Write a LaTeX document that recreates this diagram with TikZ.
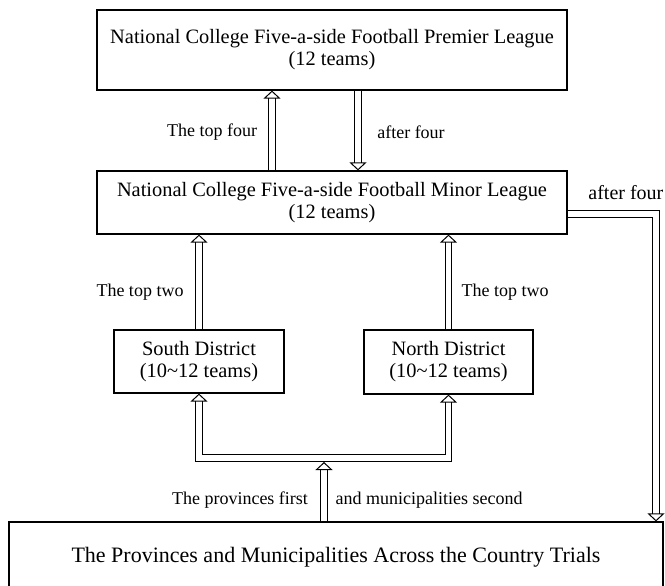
\documentclass[tikz,border=0pt]{standalone}
\usepackage{fontspec}
\setmainfont{Liberation Serif}
\usetikzlibrary{arrows.meta, positioning}

\begin{document}
\begin{tikzpicture}[x=0.5pt, y=-0.5pt,
  box/.style={draw, line width=0.6pt, align=center, inner sep=0pt, font=\fontsize{10.2}{11}\selectfont},
  lbl/.style={inner sep=0pt, font=\fontsize{9}{11}\selectfont},
  dbl/.style={double, double distance=2.8pt, line width=0.5pt, line join=miter,
    -{Triangle[open, length=4pt, width=8.5pt, line width=0.5pt]}}]
  \useasboundingbox (0,0) rectangle (665,585);
  \clip (0,0) rectangle (665,585);

  % Leagues
  \node[box, minimum width=235pt, minimum height=40pt] (premier) at (332,50) {National College Five-a-side Football Premier League\\(12 teams)};
  \node[box, minimum width=235pt, minimum height=31.5pt] (minor) at (332,202.5) {National College Five-a-side Football Minor League\\(12 teams)};

  % Districts
  \node[box, minimum width=85pt, minimum height=31.5pt] (south) at (199,361.5) {South District\\(10\char`~12 teams)};
  \node[box, minimum width=84.5pt, minimum height=32pt] (north) at (448.5,362) {North District\\(10\char`~12 teams)};

  % Trials
  \node[box, minimum width=327pt, minimum height=35pt, font=\fontsize{11}{13}\selectfont] (trials) at (336,557) {The Provinces and Municipalities Across the Country Trials};

  \coordinate (fork) at (324,458);
  \coordinate (edge) at (656,214);

  % Promotion and relegation
  \draw[dbl] ([xshift=-30pt]minor.north) -- ([xshift=-30pt]premier.south);
  \draw[dbl] ([xshift=13pt]premier.south) -- ([xshift=13pt]minor.north);
  \node[lbl] (topfour) at (212,132) {The top four};
  \node[lbl] (afterfour) at (411,132) {after four};

  \draw[dbl] (south.north) -- (south.north |- minor.south);
  \draw[dbl] (north.north) -- (north.north |- minor.south);
  \node[lbl] (toptwoS) at (140,292) {The top two};
  \node[lbl] (toptwoN) at (505,292) {The top two};

  % Qualifiers
  \draw[dbl, {Triangle[open, length=4pt, width=8.5pt, line width=0.5pt]}-{Triangle[open, length=4pt, width=8.5pt, line width=0.5pt]}] (south.south) |- (fork) -| (north.south);
  \draw[dbl] (trials.north -| fork) -- ([yshift=-2pt]fork);
  \node[lbl] (provfirst) at (240,500) {The provinces first};
  \node[lbl] (munisecond) at (429,500) {and municipalities second};

  \draw[dbl] (minor.east |- edge) -| (trials.north -| edge);
  \node[lbl, anchor=west, font=\fontsize{10}{11}\selectfont] (afterfourR) at (588,193) {after four};
\end{tikzpicture}
\end{document}
